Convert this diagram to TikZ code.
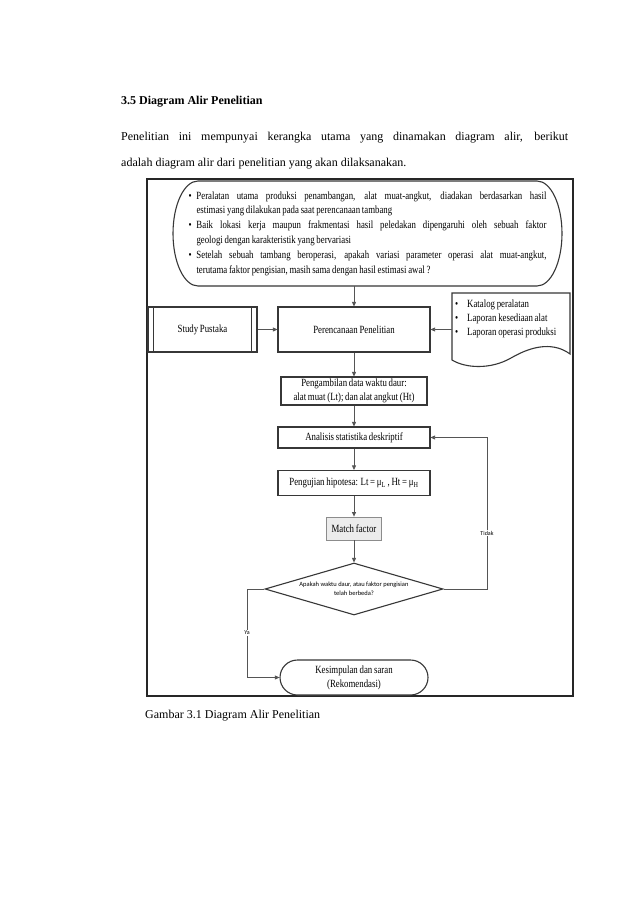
\documentclass[tikz,border=0pt]{standalone}
\usepackage{fontspec}
\setmainfont{Liberation Serif}
\newfontfamily\sempit[FakeStretch=0.8,WordSpace=0.8]{Liberation Serif}
\newfontfamily\kecil{Carlito}
\usetikzlibrary{arrows.meta,shapes.geometric,shapes.misc,calc}
\definecolor{garis}{RGB}{55,55,55}
\definecolor{panahabu}{RGB}{85,85,85}
\definecolor{isimatch}{RGB}{236,236,236}
\newcommand{\butir}[1]{\noindent\hangindent=8pt\hangafter=1\makebox[8pt][l]{\textbullet}#1\par}
\tikzset{
  proses/.style={draw=garis,line width=1.1pt,fill=white,align=center,inner sep=2pt,
    font=\sempit\fontsize{11}{14}\selectfont},
  alur/.style={draw=panahabu,line width=0.8pt,-{Triangle[length=4.5pt,width=4pt]}},
  teks kecil/.style={font=\kecil\fontsize{6}{7}\selectfont,fill=white,inner sep=1pt},
  teks halaman/.style={anchor=base west,inner sep=0pt,font=\fontsize{12}{14}\selectfont},
}

\begin{document}
\begin{tikzpicture}[x=1pt,y=-1pt]
  %% halaman
  \fill[white] (0,0) rectangle (638,902);
  \useasboundingbox (0,0) rectangle (638,902);
  \node[teks halaman,font=\bfseries\fontsize{12}{14}\selectfont] (judul) at (121,104) {3.5 Diagram Alir Penelitian};
  \node[teks halaman] (paragrafa) at (121,140)
    {\makebox[447pt][s]{Penelitian ini mempunyai kerangka utama yang dinamakan diagram alir, berikut}};
  \node[teks halaman] (paragrafb) at (121,166) {adalah diagram alir dari penelitian yang akan dilaksanakan.};

  %% bingkai gambar
  \draw[line width=1.6pt,draw=black!85] (147,179) rectangle (573,696);

  %% latar belakang (terminator atas)
  \draw[draw=garis,line width=1.1pt] (198,181) -- (537,181)
    arc[start angle=-90,end angle=90,x radius=25,y radius=52.5] -- (198,286)
    arc[start angle=90,end angle=270,x radius=25,y radius=52.5] -- cycle;
  \node[text width=358pt,minimum height=105pt,inner sep=0pt,align=justify,
        font=\sempit\fontsize{11}{14.8}\selectfont] (latar) at (367.5,233.5)
    {\butir{Peralatan utama produksi penambangan, alat muat-angkut, diadakan berdasarkan hasil\linebreak estimasi yang dilakukan pada saat perencanaan tambang}
     \butir{Baik lokasi kerja maupun frakmentasi hasil peledakan dipengaruhi oleh sebuah faktor\linebreak geologi dengan karakteristik yang bervariasi}
     \butir{Setelah sebuah tambang beroperasi, apakah variasi parameter operasi alat muat-angkut,\linebreak terutama faktor pengisian, masih sama dengan hasil estimasi awal ?}};

  %% baris proses
  \node[proses,minimum width=152pt,minimum height=45pt] (perencanaan) at (354,329.5) {Perencanaan Penelitian};
  \node[proses,minimum width=109pt,minimum height=45pt] (pustaka) at (202.5,329.5) {Study Pustaka};
  \draw[draw=garis,line width=1.1pt] ($(pustaka.north west)+(6,0)$) -- ($(pustaka.south west)+(6,0)$);
  \draw[draw=garis,line width=1.1pt] ($(pustaka.north east)+(-6,0)$) -- ($(pustaka.south east)+(-6,0)$);

  %% dokumen data
  \draw[draw=garis,line width=1.1pt,fill=white] (452,293) -- (570,293) -- (570,354)
    .. controls (555,343) and (535,344) .. (511,358)
    .. controls (490,370) and (465,368) .. (452,360) -- cycle;
  \node[anchor=west,text width=114pt,inner xsep=3pt,inner ysep=0pt,align=flush left,
        font=\sempit\fontsize{11}{14}\selectfont] (katalog) at (452,319)
    {\makebox[12pt][l]{\textbullet}Katalog peralatan\\
     \makebox[12pt][l]{\textbullet}Laporan kesediaan alat\\
     \makebox[12pt][l]{\textbullet}Laporan operasi produksi};

  %% alur utama
  \node[proses,minimum width=146pt,minimum height=28pt,inner sep=0pt,
        font=\sempit\fontsize{11}{14}\selectfont] (pengambilan) at (354,391)
    {Pengambilan data waktu daur:\\alat muat (Lt); dan alat angkut (Ht)};
  \node[proses,minimum width=152pt,minimum height=21pt] (analisis) at (354,437.5) {Analisis statistika deskriptif};
  \node[proses,minimum width=152pt,minimum height=25pt] (pengujian) at (354,483)
    {Pengujian hipotesa: Lt = μ\textsubscript{L} , Ht = μ\textsubscript{H}};
  \node[proses,draw=black!45,line width=0.8pt,fill=isimatch,minimum width=55pt,minimum height=23pt] (match) at (354,528.5) {Match factor};
  \node[draw=garis,line width=1.1pt,diamond,shape aspect=3.4,minimum width=178pt,minimum height=52pt,
        inner sep=0pt,align=center,font=\kecil\fontsize{6.5}{9}\selectfont] (keputusan) at (354,589)
    {Apakah waktu daur, atau faktor pengisian\\telah berbeda?};
  \node[proses,rounded rectangle,minimum width=152pt,minimum height=35pt] (kesimpulan) at (354,677.5)
    {Kesimpulan dan saran\\(Rekomendasi)};

  %% panah
  \draw[alur] (perencanaan.north |- latar.south) -- (perencanaan.north);
  \draw[alur] (pustaka.east) -- (perencanaan.west);
  \draw[alur] (katalog.west |- perencanaan.east) -- (perencanaan.east);
  \draw[alur] (perencanaan.south) -- (pengambilan.north);
  \draw[alur] (pengambilan.south) -- (analisis.north);
  \draw[alur] (analisis.south) -- (pengujian.north);
  \draw[alur] (pengujian.south) -- (match.north);
  \draw[alur] (match.south) -- (keputusan.north);

  %% cabang keputusan
  \coordinate (belokkanan) at (487,0);
  \coordinate (belokkiri) at (247,0);
  \draw[alur] (keputusan.east) -- (keputusan.east -| belokkanan)
    -- (analisis.east -| belokkanan) -- (analisis.east);
  \draw[alur] (keputusan.west) -- (keputusan.west -| belokkiri)
    -- (kesimpulan.west -| belokkiri) -- (kesimpulan.west);
  \node[teks kecil] (tidak) at (487,533) {Tidak};
  \node[teks kecil] (ya) at (247,633) {Ya};

  %% keterangan gambar
  \node[teks halaman] (keterangan) at (145,718) {Gambar 3.1 Diagram Alir Penelitian};
\end{tikzpicture}
\end{document}
